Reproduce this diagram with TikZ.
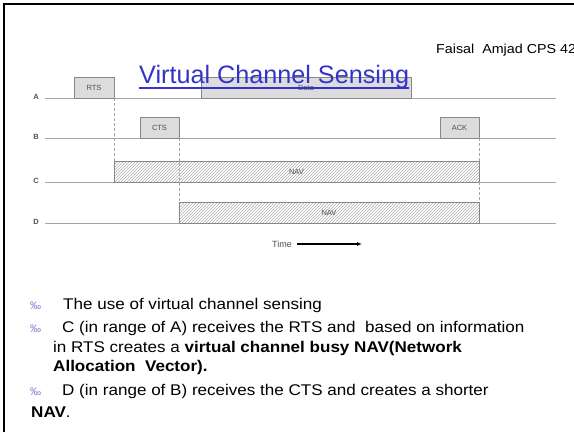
\documentclass[tikz,border=0pt]{standalone}
\usepackage{fontspec}
\setmainfont{Liberation Sans}
\newfontfamily\widefont[FakeStretch=1.1]{Liberation Sans}
\usetikzlibrary{patterns,arrows.meta}
\definecolor{titleblue}{RGB}{51,51,204}
\definecolor{bulletblue}{RGB}{125,125,215}
\definecolor{pktfill}{RGB}{220,220,220}
\definecolor{pktedge}{RGB}{135,135,135}
\definecolor{rowline}{RGB}{165,165,165}
\definecolor{smalltext}{RGB}{80,80,80}

\begin{document}
\begin{tikzpicture}[x=1pt,y=-1pt,
  frame/.style={line width=2.8pt,black},
  rowlabel/.style={anchor=base,font=\fontsize{7.5}{8}\selectfont\bfseries,text=smalltext,inner sep=0pt},
  row/.style={draw=rowline,line width=1pt},
  pkt/.style={draw=pktedge,fill=pktfill,line width=1pt,inner sep=0pt,outer sep=0pt,
    anchor=south west,minimum height=21pt,font=\fontsize{7.5}{8}\selectfont,text=smalltext},
  navbox/.style={draw=pktedge,line width=1pt,inner sep=0pt,outer sep=0pt,
    pattern=north east lines,pattern color=black!30,
    anchor=south west,minimum height=21pt,font=\fontsize{7.5}{8}\selectfont,text=smalltext},
  guide/.style={draw=rowline,line width=0.6pt,dash pattern=on 3pt off 2pt},
  body/.style={anchor=base west,inner sep=0pt,font=\widefont\fontsize{15.5}{17}\selectfont},
  bul/.style={anchor=base west,inner sep=0pt,text=bulletblue,font=\fontsize{11}{12}\selectfont}]

\useasboundingbox (0,0) rectangle (574,432);
\fill[white] (0,0) rectangle (574,432);

% slide frame (top and left edges)
\draw[frame] (4,432) -- (4,4) -- (574,4);

% header
\node[anchor=base west,inner sep=0pt,font=\widefont\fontsize{13}{14}\selectfont] (author) at (436,53) {Faisal\ \ Amjad CPS 422};

% time lines
\foreach \name/\yy in {A/98,B/138,C/182,D/223}{
  \draw[row] (45,\yy) -- (556,\yy);
  \node[rowlabel] (lbl\name) at (36,\yy+1) {\name};
}

% frames on the channel
\node[pkt,minimum width=40pt] (rts) at (74,98) {RTS};
\node[pkt,minimum width=210pt] (data) at (201,98) {Data};
\node[pkt,minimum width=39pt] (cts) at (140,138) {CTS};
\node[pkt,minimum width=39pt] (ack) at (440,138) {ACK};
\node[navbox,minimum width=365pt] (navc) at (114,182) {NAV};
\node[navbox,minimum width=300pt] (navd) at (179,223) {NAV};

% timing guides
\draw[guide] (rts.south east) -- (navc.north west);
\draw[guide] (cts.south east) -- (navd.north west);
\draw[guide] (ack.south east) -- (navc.north east);
\draw[guide] (navc.south east) -- (navd.north east);

% time axis
\node[anchor=base west,inner sep=0pt,font=\fontsize{9}{10}\selectfont,text=smalltext] (time) at (272,247) {Time};
\coordinate (tend) at (362,244);
\draw[line width=1.2pt,-{Latex[length=5pt,width=4pt]}] (time.east |- tend) ++(5,0) -- (tend);

% title
\node[anchor=base west,inner sep=0pt,text=titleblue,font=\fontsize{25.2}{29}\selectfont] (title) at (139,83) {Virtual Channel Sensing};
\draw[titleblue,line width=1.4pt] ([yshift=-5pt]title.base west) -- ([yshift=-5pt]title.base east);

% notes
\node[bul] (b1) at (30,309) {‰};
\node[body] (t1) at (63,309) {The use of virtual channel sensing};
\node[bul] (b2) at (30,332) {‰};
\node[body] (t2) at (62,332) {C (in range of A) receives the RTS and\ \ based on information};
\node[body] (t3) at (53,352) {in RTS creates a \textbf{virtual channel busy NAV(Network}};
\node[body] (t4) at (53,371) {\textbf{Allocation\ \ Vector).}};
\node[bul] (b3) at (30,395) {‰};
\node[body] (t5) at (62,395) {D (in range of B) receives the CTS and creates a shorter};
\node[body] (t6) at (31,417) {\textbf{NAV}.};
\end{tikzpicture}
\end{document}
